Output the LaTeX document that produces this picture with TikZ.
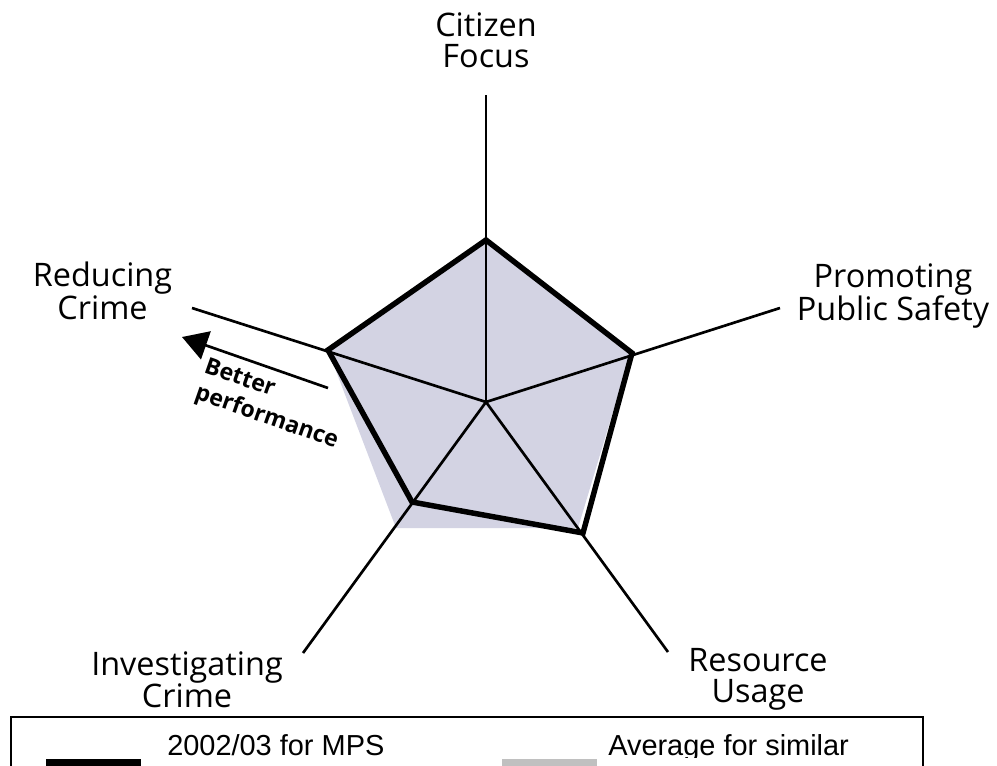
\documentclass[tikz,border=0pt]{standalone}
\usepackage{fontspec}
\setmainfont{Open Sans}
\newfontfamily\legendfont{Liberation Sans}
\usetikzlibrary{arrows.meta}
\definecolor{avgfill}{RGB}{211,211,227}
\definecolor{swatchgray}{RGB}{192,192,192}
\begin{document}
\begin{tikzpicture}[x=0.75pt,y=-0.75pt,
  axisline/.style={line width=2pt},
  mpsline/.style={line width=4.1pt,line join=miter},
  lbl/.style={font=\fontsize{24.3}{23.5}\selectfont,align=center,inner sep=0pt,anchor=north},
  legtext/.style={font=\legendfont\fontsize{21.7}{24}\selectfont,inner sep=0pt,anchor=base west},
  betterlbl/.style={font=\bfseries\fontsize{17.3}{21}\selectfont,align=left,inner sep=0pt,rotate=-19.3}]
\useasboundingbox (0,0) rectangle (997,765);
\clip (0,0) rectangle (997,765);
% centre and axis ends
\coordinate (O) at (486,402);
\coordinate (eC) at (486,95);
\coordinate (eP) at (780,308);
\coordinate (eR) at (668,652);
\coordinate (eI) at (303,653);
\coordinate (eRC) at (192,308);
% MPS values
\coordinate (mC) at (486,240);
\coordinate (mP) at (632,353);
\coordinate (mR) at (583,533);
\coordinate (mI) at (412,502);
\coordinate (mRC) at (328,350);
% average values
\coordinate (aC) at (486,240);
\coordinate (aP) at (630,355);
\coordinate (aR) at (578,528);
\coordinate (aI) at (396,528);
\coordinate (aRC) at (328,350);
\fill[avgfill] (aC) -- (aP) -- (aR) -- (aI) -- (aRC) -- cycle;
\foreach \e in {eC,eP,eR,eI,eRC} \draw[axisline] (O) -- (\e);
\draw[mpsline] (mC) -- (mP) -- (mR) -- (mI) -- (mRC) -- cycle;
% labels
\node[lbl] (lC) at (486,12) {Citizen\\Focus};
\node[lbl] (lRC) at (102.5,262) {Reducing\\Crime};
\node[lbl] (lP) at (893,263) {Promoting\\Public Safety};
\node[lbl] (lI) at (187,651) {Investigating\\Crime};
\node[lbl] (lR) at (758,648) {Resource\\Usage};
% better performance arrow
\coordinate (arT) at (328,388);
\coordinate (arH) at (182,337);
\draw[axisline,-{Triangle[length=19pt,width=22pt]}] (arT) -- (arH);
\node[betterlbl] (bp) at (271,405) {Better\\performance};
% legend
\draw[line width=1.5pt] (11,717) rectangle (923,800);
\fill[black] (46,759) rectangle (141,780);
\fill[swatchgray] (502,759) rectangle (597,780);
\begin{scope}
\clip (0,0) rectangle (997,757);
\node[legtext] (t1) at (167,755) {2002/03 for MPS};
\node[legtext] (t2) at (608,755) {Average for similar};
\end{scope}
\end{tikzpicture}
\end{document}
